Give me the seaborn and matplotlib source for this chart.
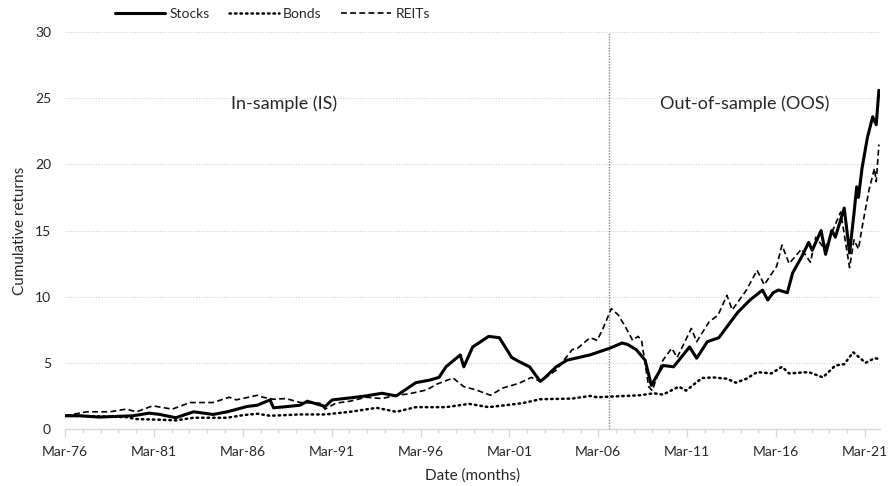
import matplotlib
matplotlib.use("Agg")
import matplotlib.pyplot as plt
import seaborn as sns
import pandas as pd
from matplotlib.ticker import FixedLocator

# ---- data (fractional years, cumulative returns) ----
stocks_t = [1976.17, 1977.0, 1978.1, 1979.0, 1980.0, 1980.9, 1981.5, 1982.4, 1983.4, 1984.5,
            1985.3, 1986.4, 1987.0, 1987.7, 1987.9, 1988.7, 1989.4, 1989.8, 1990.8, 1991.2,
            1992.2, 1993.1, 1994.0, 1994.8, 1995.9, 1996.7, 1997.2, 1997.6, 1998.4, 1998.6,
            1999.1, 2000.0, 2000.6, 2001.3, 2001.7, 2002.3, 2002.9, 2003.1, 2003.8, 2004.4,
            2005.7, 2006.8, 2007.5, 2007.8, 2008.3, 2008.8, 2009.15, 2009.8, 2010.4, 2011.3,
            2011.7, 2012.3, 2012.95, 2013.5, 2014.0, 2014.7, 2015.4, 2015.7, 2016.0, 2016.3,
            2016.8, 2017.1, 2017.6, 2018.0, 2018.2, 2018.7, 2018.95, 2019.3, 2019.5, 2020.0,
            2020.3, 2020.55, 2020.7, 2020.8, 2021.0, 2021.3, 2021.6, 2021.8, 2021.95]
stocks_v = [1.0, 1.0, 0.9, 0.95, 1.0, 1.2, 1.1, 0.85, 1.3, 1.1,
            1.3, 1.7, 1.8, 2.2, 1.6, 1.7, 1.8, 2.1, 1.7, 2.2,
            2.35, 2.5, 2.7, 2.5, 3.5, 3.7, 3.9, 4.7, 5.6, 4.7,
            6.2, 7.0, 6.9, 5.4, 5.1, 4.7, 3.6, 3.8, 4.7, 5.2,
            5.6, 6.1, 6.5, 6.4, 6.0, 5.2, 3.3, 4.8, 4.7, 6.2,
            5.35, 6.6, 6.9, 7.9, 8.8, 9.75, 10.5, 9.75, 10.3, 10.5,
            10.3, 11.8, 13.0, 14.1, 13.5, 15.0, 13.2, 15.0, 14.5, 16.7,
            13.3, 16.3, 18.3, 17.5, 19.7, 22.0, 23.6, 23.0, 25.6]

bonds_t = [1976.17, 1978.1, 1979.6, 1980.2, 1981.5, 1982.4, 1983.4, 1985.3, 1986.2, 1987.0,
           1987.7, 1989.4, 1990.8, 1992.2, 1993.7, 1994.8, 1995.9, 1997.6, 1998.9, 2000.0,
           2001.9, 2002.9, 2004.7, 2005.7, 2006.1, 2007.7, 2008.5, 2009.3, 2009.8, 2010.7,
           2011.1, 2012.0, 2012.6, 2013.4, 2013.9, 2014.5, 2015.1, 2015.9, 2016.5, 2016.9,
           2018.0, 2018.8, 2019.5, 2020.0, 2020.5, 2021.2, 2021.7, 2021.95]
bonds_v = [1.0, 0.95, 0.9, 0.75, 0.7, 0.65, 0.85, 0.85, 1.05, 1.15,
           1.0, 1.1, 1.1, 1.3, 1.6, 1.3, 1.65, 1.65, 1.9, 1.65,
           1.95, 2.25, 2.3, 2.5, 2.4, 2.5, 2.55, 2.7, 2.6, 3.2,
           2.9, 3.85, 3.9, 3.8, 3.5, 3.8, 4.3, 4.2, 4.7, 4.2,
           4.3, 3.9, 4.8, 4.9, 5.8, 5.0, 5.35, 5.3]

reits_t = [1976.17, 1977.4, 1978.7, 1979.6, 1980.2, 1981.1, 1982.2, 1983.2, 1984.5, 1985.4,
           1985.8, 1987.0, 1987.3, 1987.9, 1988.6, 1989.4, 1990.5, 1990.8, 1991.4, 1992.2,
           1993.1, 1994.0, 1994.8, 1995.5, 1996.5, 1997.1, 1998.0, 1998.6, 1999.3, 2000.1,
           2000.8, 2001.7, 2002.4, 2002.9, 2003.8, 2004.7, 2005.0, 2005.7, 2006.1, 2006.4,
           2006.9, 2007.3, 2007.7, 2008.1, 2008.4, 2008.6, 2009.0, 2009.2, 2009.8, 2010.3,
           2010.6, 2011.4, 2011.7, 2012.4, 2012.9, 2013.4, 2013.7, 2014.5, 2015.1, 2015.5,
           2016.2, 2016.5, 2016.9, 2017.6, 2018.1, 2018.4, 2018.9, 2019.8, 2020.3, 2020.55,
           2020.8, 2021.0, 2021.4, 2021.7, 2021.8, 2021.95]
reits_v = [1.0, 1.3, 1.3, 1.5, 1.3, 1.75, 1.5, 2.0, 2.0, 2.4,
           2.2, 2.55, 2.4, 2.25, 2.3, 2.0, 1.95, 1.5, 1.95, 2.1,
           2.4, 2.3, 2.55, 2.65, 2.95, 3.4, 3.85, 3.2, 2.95, 2.55,
           3.1, 3.45, 3.9, 3.6, 4.45, 6.0, 6.1, 6.9, 6.7, 7.5,
           9.1, 8.6, 7.7, 6.7, 7.0, 6.7, 3.2, 2.9, 5.2, 6.1,
           5.4, 7.6, 6.6, 8.1, 8.6, 10.1, 9.0, 10.5, 12.0, 10.9,
           12.3, 13.9, 12.5, 13.6, 12.6, 14.5, 13.6, 16.4, 12.2, 14.3,
           13.6, 15.2, 18.1, 19.7, 18.7, 21.5]

x_tick_years = [1976, 1981, 1986, 1991, 1996, 2001, 2006, 2011, 2016, 2021]
x_tick_labels = ["Mar-76", "Mar-81", "Mar-86", "Mar-91", "Mar-96",
                 "Mar-01", "Mar-06", "Mar-11", "Mar-16", "Mar-21"]
y_ticks = [0, 5, 10, 15, 20, 25, 30]
split_year = 2006.79

# ---- style ----
sns.set_theme(style="white")
plt.rcParams["font.family"] = ["Lato", "DejaVu Sans"]

fig = plt.figure(figsize=(8.95, 4.86), dpi=100)
ax = fig.add_axes([0.0726, 0.1173, 0.9104, 0.8167])

grid_c = "#d0d0d0"
for y in y_ticks[1:]:
    ax.axhline(y, color=grid_c, linestyle=(0, (1, 1.5)), linewidth=0.8, zorder=0)

df_s = pd.DataFrame({"t": stocks_t, "v": stocks_v})
df_b = pd.DataFrame({"t": bonds_t, "v": bonds_v})
df_r = pd.DataFrame({"t": reits_t, "v": reits_v})

sns.lineplot(data=df_s, x="t", y="v", ax=ax, color="black", linewidth=2.2,
             label="Stocks", zorder=3)
sns.lineplot(data=df_b, x="t", y="v", ax=ax, color="black", linewidth=1.8,
             linestyle=(0, (0.6, 1.6)), dash_capstyle="round", label="Bonds", zorder=3)
sns.lineplot(data=df_r, x="t", y="v", ax=ax, color="black", linewidth=1.2,
             linestyle=(0, (3.5, 2)), label="REITs", zorder=3)

ax.axvline(split_year, color="#808080", linestyle=(0, (1, 1)), linewidth=1.0, zorder=1)

ax.text(1988.5, 24.6, "In-sample (IS)", fontsize=13, ha="center", va="center")
ax.text(2014.4, 24.6, "Out-of-sample (OOS)", fontsize=13, ha="center", va="center")

x0 = 1976 + 2 / 12
ax.set_xlim(x0, 2022.0)
ax.set_ylim(0, 30)
ax.set_xticks([y + 2 / 12 for y in x_tick_years])
ax.set_xticklabels(x_tick_labels, fontsize=10)
ax.xaxis.set_minor_locator(FixedLocator([x0 + i for i in range(0, 47)]))
ax.set_yticks(y_ticks)
ax.set_yticklabels([str(v) for v in y_ticks], fontsize=10)

for s in ["top", "right", "left"]:
    ax.spines[s].set_visible(False)
ax.spines["bottom"].set_color("#d9d9d9")
ax.spines["bottom"].set_linewidth(1.0)
ax.tick_params(axis="x", which="major", direction="out", length=6, color="#d9d9d9",
               width=1, pad=6, bottom=True)
ax.tick_params(axis="x", which="minor", direction="out", length=3, color="#d9d9d9",
               width=1, bottom=True)
ax.tick_params(axis="y", length=0, pad=10)

ax.set_xlabel("Date (months)", fontsize=11, labelpad=8)
ax.set_ylabel("Cumulative returns", fontsize=11, labelpad=6)

leg = ax.legend(loc="center left", bbox_to_anchor=(115 / 895, 1 - 14 / 486),
                bbox_transform=fig.transFigure, ncol=3, frameon=False,
                fontsize=10, handlelength=3.6, handletextpad=0.3,
                columnspacing=1.4, borderpad=0, borderaxespad=0)

fig.savefig("out.png", dpi=100)
